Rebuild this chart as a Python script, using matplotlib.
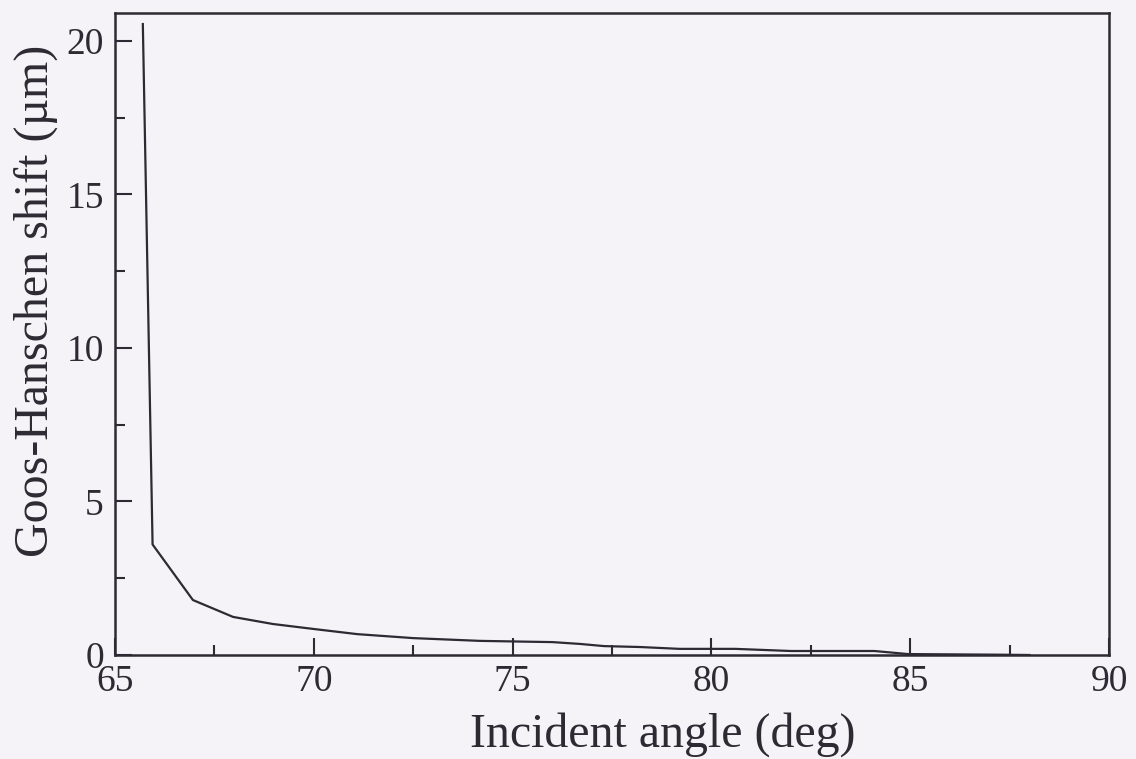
import matplotlib
matplotlib.use("Agg")
import matplotlib.pyplot as plt
from matplotlib.ticker import MultipleLocator

angle = [65.70, 65.945, 66.96, 67.97, 68.97, 69.98, 71.09, 72.5, 74.18, 76.0,
         76.7, 77.3, 78.2, 79.2, 80.6, 82.0, 84.1, 84.95, 87.26, 88.0]
shift = [20.55, 3.6, 1.79, 1.24, 1.01, 0.85, 0.68, 0.55, 0.46, 0.42,
         0.36, 0.29, 0.26, 0.20, 0.20, 0.13, 0.13, 0.03, 0.01, 0.0]

xticks = [65, 70, 75, 80, 85, 90]
yticks = [0, 5, 10, 15, 20]

plt.rcParams['font.family'] = ['Liberation Serif', 'DejaVu Serif']
bg = '#f5f3f8'
ink = '#2e2a33'
W, H = 1136, 759

fig = plt.figure(figsize=(W/100, H/100), dpi=100, facecolor=bg)
ax = fig.add_axes([115/W, 1 - 655/H, (1109-115)/W, (655-12.7)/H])
ax.set_facecolor(bg)
ax.plot(angle, shift, color=ink, lw=1.6)
ax.set_xlim(65, 90)
ax.set_ylim(0, 20.92)
ax.set_xticks(xticks)
ax.set_yticks(yticks)
ax.xaxis.set_minor_locator(MultipleLocator(2.5))
ax.yaxis.set_minor_locator(MultipleLocator(2.5))
ax.tick_params(which='both', direction='in', colors=ink, labelsize=27, width=1.5)
ax.tick_params(which='major', length=12)
ax.tick_params(which='minor', length=7)
ax.tick_params(axis='x', pad=7)
ax.tick_params(axis='y', pad=8)
for s in ax.spines.values():
    s.set_color(ink)
    s.set_linewidth(1.8)

fig.text(663/W, 1 - 747/H, 'Incident angle (deg)', fontsize=34.5, color=ink,
         ha='center', va='baseline')
fig.text(48/W, 1 - 301/H, 'Goos-Hanschen shift (µm)', fontsize=34.5, color=ink,
         ha='center', va='baseline', rotation=90, rotation_mode='anchor')
fig.savefig('out.png', dpi=100, facecolor=bg)
